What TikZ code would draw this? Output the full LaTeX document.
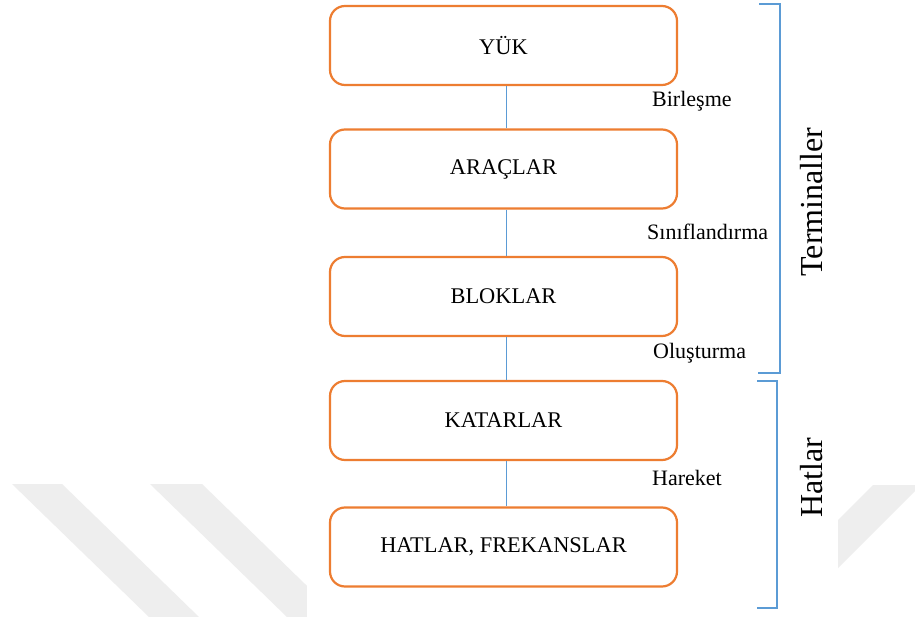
\documentclass[tikz,border=0pt]{standalone}
\usepackage{fontspec}
\setmainfont{Liberation Serif}
\definecolor{boxorange}{HTML}{ED7D31}
\definecolor{linkblue}{HTML}{5B9BD5}
\definecolor{markgray}{HTML}{EEEEEE}
\begin{document}
\begin{tikzpicture}[x=1pt,y=-1pt,
  stage/.style={draw=boxorange, line width=2.2pt, rounded corners=15pt,
    minimum width=347pt, minimum height=79pt, fill=white, inner sep=0pt,
    font=\fontsize{22.4}{26}\selectfont},
  link/.style={draw=linkblue, line width=1pt},
  brace/.style={draw=linkblue, line width=1.3pt},
  steplabel/.style={anchor=mid west, inner sep=0pt, font=\fontsize{22}{26}\selectfont},
  grouplabel/.style={rotate=90, inner sep=0pt, font=\fontsize{32}{38}\selectfont},
  stripe/.style={fill=markgray, draw=none}
]
\useasboundingbox (0,0) rectangle (915,617);
\fill[white] (0,0) rectangle (915,617);

% faint background stripes
\fill[stripe] (12,484) -- (62,484) -- (199,617) -- (149,617) -- cycle;
\fill[stripe] (150,484) -- (202,484) -- (339,617) -- (287,617) -- cycle;
\fill[stripe] (873,485) -- (921,485) -- (789,617) -- (741,617) -- cycle;
% white panel behind the chart
\fill[white] (307,0) rectangle (838,617);

% stages
\node[stage] (yuk)   at (503.5,45.5)  {YÜK};
\node[stage] (arac)  at (503.5,169)   {ARAÇLAR};
\node[stage] (blok)  at (503.5,296.5) {BLOKLAR};
\node[stage] (katar) at (503.5,420.5) {KATARLAR};
\node[stage] (hat)   at (503.5,547)   {HATLAR, FREKANSLAR};

% links between stages
\draw[link] ([xshift=3pt]yuk.south)   -- ([xshift=3pt]arac.north);
\draw[link] ([xshift=3pt]arac.south)  -- ([xshift=3pt]blok.north);
\draw[link] ([xshift=3pt]blok.south)  -- ([xshift=3pt]katar.north);
\draw[link] ([xshift=3pt]katar.south) -- ([xshift=3pt]hat.north);

% step labels
\node[steplabel] (birles) at (652,104) {Birleşme};
\node[steplabel] (sinif)  at (647,237) {Sınıflandırma};
\node[steplabel] (olus)   at (653,356) {Oluşturma};
\node[steplabel] (hare)   at (652,483) {Hareket};

% group brackets
\coordinate (t1) at (759,4);
\coordinate (t2) at (780,4);
\coordinate (t3) at (780,373);
\coordinate (t4) at (758,373);
\draw[brace] (t1) -- (t2) -- (t3) -- (t4);
\coordinate (h1) at (757,381);
\coordinate (h2) at (777,381);
\coordinate (h3) at (777,608);
\coordinate (h4) at (757,608);
\draw[brace] (h1) -- (h2) -- (h3) -- (h4);

% group labels
\node[grouplabel] (term) at (812,202) {Terminaller};
\node[grouplabel] (hatg) at (812,478) {Hatlar};
\end{tikzpicture}
\end{document}
